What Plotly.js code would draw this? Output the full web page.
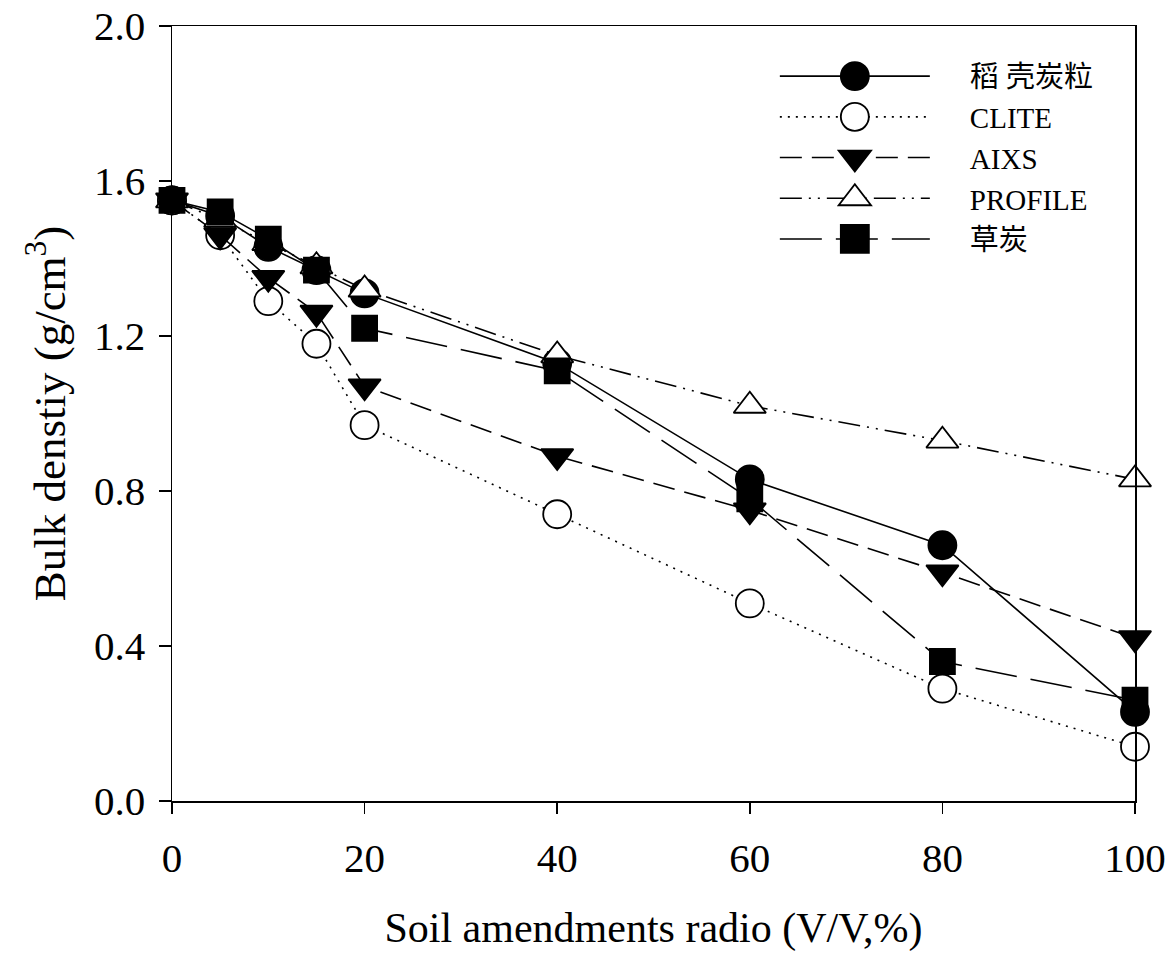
<!DOCTYPE html>
<html><head><meta charset="utf-8">
<script src="https://cdn.plot.ly/plotly-3.0.1.min.js"></script>
<style>html,body{margin:0;padding:0;background:#fff}</style>
</head><body>
<div id="chart" style="width:1174px;height:957px"></div>
<script>
// Data
const ratio = [0, 5, 10, 15, 20, 40, 60, 80, 100];
const riceHullChar = [1.55, 1.51, 1.43, 1.37, 1.31, 1.13, 0.83, 0.66, 0.23];
const clite = [1.55, 1.46, 1.29, 1.18, 0.97, 0.74, 0.51, 0.29, 0.14];
const aixs = [1.55, 1.46, 1.35, 1.26, 1.07, 0.89, 0.75, 0.59, 0.42];
const profile = [1.55, 1.50, 1.44, 1.38, 1.32, 1.15, 1.02, 0.93, 0.83];
const peat = [1.55, 1.52, 1.45, 1.37, 1.22, 1.11, 0.78, 0.36, 0.26];
const seriesNames = ['稻 壳炭粒', 'CLITE', 'AIXS', 'PROFILE', '草炭'];
const xTicks = [0, 20, 40, 60, 80, 100];
const yTicks = [0.0, 0.4, 0.8, 1.2, 1.6, 2.0];

const serif = 'Liberation Serif, Times New Roman, Noto Sans CJK SC, serif';

function mk(name, y, symbol, fill, dash) {
  return {
    type: 'scatter', mode: 'lines+markers', name: name, x: ratio, y: y,
    cliponaxis: false,
    line: {color: '#000', width: 1.6, dash: dash},
    marker: {symbol: symbol, size: symbol === 'square' ? 25 : 28,
             color: fill, line: {color: '#000', width: 1.8}}
  };
}

const traces = [
  mk(seriesNames[0], riceHullChar, 'circle', '#000', 'solid'),
  mk(seriesNames[1], clite, 'circle', '#fff', '2px,6px'),
  mk(seriesNames[2], aixs, 'triangle-down', '#000', '22px,10px'),
  mk(seriesNames[3], profile, 'triangle-up', '#fff', '22px,7px,2px,7px,2px,7px'),
  mk(seriesNames[4], peat, 'square', '#000', '42px,14px')
];

const layout = {
  width: 1174, height: 957,
  margin: {l: 172, r: 39, t: 26, b: 156},
  paper_bgcolor: '#fff', plot_bgcolor: '#fff',
  font: {family: serif, color: '#000'},
  showlegend: true,
  legend: {
    x: 0.626, y: 0.968, xanchor: 'left', yanchor: 'top',
    bgcolor: 'rgba(0,0,0,0)', borderwidth: 0,
    font: {family: serif, size: 29, color: '#000'},
    itemwidth: 150
  },
  xaxis: {
    range: [0, 100], tickvals: xTicks, ticktext: xTicks.map(String),
    ticks: 'outside', ticklen: 11, tickwidth: 1.5, tickcolor: '#000',
    showline: true, linecolor: '#000', linewidth: 1.5, mirror: true,
    showgrid: false, zeroline: false,
    tickfont: {family: serif, size: 41, color: '#000'},
    ticklabelstandoff: 9,
    title: {text: 'Soil amendments radio (V/V,%)', font: {family: serif, size: 42, color: '#000'}, standoff: 33}
  },
  yaxis: {
    range: [0, 2], tickvals: yTicks, ticktext: yTicks.map(v => v.toFixed(1)),
    ticks: 'outside', ticklen: 12, tickwidth: 1.5, tickcolor: '#000',
    showline: true, linecolor: '#000', linewidth: 1.5, mirror: true,
    showgrid: false, zeroline: false,
    tickfont: {family: serif, size: 41, color: '#000'},
    ticklabelstandoff: 5,
    title: {text: 'Bulk denstiy (g/cm<sup>3</sup>)', font: {family: serif, size: 45, color: '#000'}, standoff: 14}
  }
};

function restyleLegend(gd) {
  // no clipping of the legend box, since labels are moved right
  gd.querySelectorAll('.legend, .legend *').forEach(function (el) {
    if (el.hasAttribute && el.hasAttribute('clip-path')) el.removeAttribute('clip-path');
  });
  // enlarge legend marker symbols to plot size and move label text right
  gd.querySelectorAll('.legend .traces').forEach(function (tr) {
    tr.querySelectorAll('.legendpoints path.scatterpts').forEach(function (p) {
      if (p.getAttribute('data-big')) return;
      const t = p.getAttribute('transform') || '';
      p.setAttribute('transform', t + ' scale(1.75)');
      p.style.strokeWidth = '1.05px';
      p.setAttribute('data-big', '1');
    });
    const txt = tr.querySelector('text.legendtext');
    if (txt && !txt.getAttribute('data-moved')) {
      const x = parseFloat(txt.getAttribute('x') || '0');
      txt.setAttribute('x', x + 35);
      txt.querySelectorAll('tspan').forEach(function (ts) {
        if (ts.getAttribute('x') !== null) ts.setAttribute('x', parseFloat(ts.getAttribute('x')) + 35);
      });
      txt.setAttribute('data-moved', '1');
    }
  });
}

Plotly.newPlot('chart', traces, layout, {staticPlot: true, displayModeBar: false}).then(function (gd) {
  restyleLegend(gd);
});
</script>
</body></html>
